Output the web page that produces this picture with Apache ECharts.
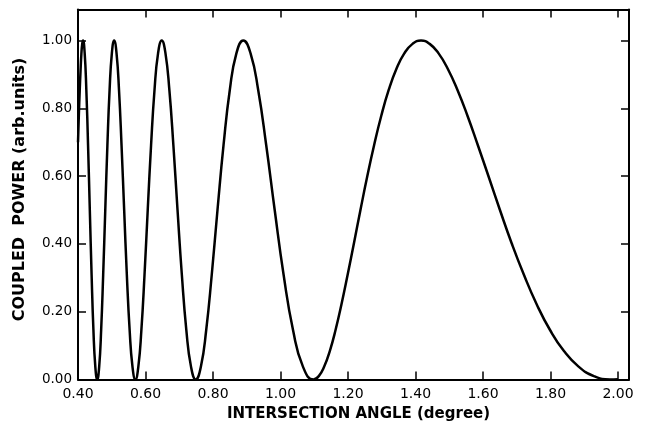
<!DOCTYPE html>
<html><head><meta charset="utf-8">
<script src="https://cdn.jsdelivr.net/npm/echarts/dist/echarts.min.js"></script>
<style>html,body{margin:0;padding:0;background:#fff}#c{width:647px;height:428px}</style>
</head><body><div id="c"></div>
<script>
const angles = [
0.4000,0.4025,0.4050,0.4075,0.4100,0.4125,0.4149,0.4198,0.4247,0.4298,0.4350,0.4403,0.4457,0.4513,0.4570,
0.4628,0.4686,0.4746,0.4808,0.4871,0.4936,0.5003,0.5071,0.5142,0.5215,0.5290,0.5368,0.5447,0.5530,0.5614,0.5701,
0.5788,0.5878,0.5971,0.6066,0.6165,0.6267,0.6372,0.6481,0.6592,0.6707,0.6826,0.6949,0.7077,0.7210,0.7348,0.7491,
0.7642,0.7799,0.7963,0.8133,0.8312,0.8498,0.8693,0.8897,0.9113,0.9339,0.9577,0.9828,1.0092,1.0371,1.0665,1.0977,
1.1134,1.1295,1.1461,1.1631,1.1807,1.1989,1.2176,1.2369,1.2568,1.2773,1.2986,1.3206,1.3433,1.3668,1.3912,1.4164,
1.4420,1.4684,1.4959,1.5244,1.5540,1.5848,1.6168,1.6502,1.6849,1.7212,1.7590,1.7986,1.8399,1.8832,1.9286,1.9763,2.0000
];
const power = [
0.70,0.78,0.85,0.91,0.96,0.99,1.00,0.962,0.854,0.691,0.50,0.309,0.146,0.038,0.0,
0.038,0.146,0.309,0.50,0.691,0.854,0.962,1.00,0.962,0.854,0.691,0.50,0.309,0.146,0.038,0.0,
0.038,0.146,0.309,0.50,0.691,0.854,0.962,1.00,0.962,0.854,0.691,0.50,0.309,0.146,0.038,0.0,
0.038,0.146,0.309,0.50,0.691,0.854,0.962,1.00,0.962,0.854,0.691,0.50,0.309,0.146,0.038,0.0,
0.010,0.038,0.084,0.146,0.222,0.309,0.402,0.50,0.598,0.691,0.778,0.854,0.916,0.962,0.990,1.00,
0.990,0.962,0.916,0.854,0.778,0.691,0.598,0.50,0.402,0.309,0.222,0.146,0.084,0.038,0.010,0.0,0.001
];
const xTickLabels = ['0.40','0.60','0.80','1.00','1.20','1.40','1.60','1.80','2.00'];
const yTickLabels = ['0.00','0.20','0.40','0.60','0.80','1.00'];
const xName = 'INTERSECTION ANGLE (degree)';
const yName = 'COUPLED  POWER (arb.units)';

const chart = echarts.init(document.getElementById('c'), null, {renderer:'canvas'});
const fmt = (list) => (v) => { const s = v.toFixed(2); return list.indexOf(s) >= 0 && Math.abs(v*5 - Math.round(v*5)) < 1e-6 ? s : ''; };
const lineStyle = {color:'#000', width:2};
const tick = {show:true, inside:true, length:8, lineStyle:{color:'#000', width:1.5}};
const nameFont = {color:'#000', fontFamily:'DejaVu Sans', fontWeight:'bold', fontSize:15};
const X = {min:0.4, max:2.0326, interval:0.2};
const Y = {min:0, max:1.0914, interval:0.2};
chart.setOption({
  animation:false,
  backgroundColor:'#fff',
  grid:{left:78, right:18, top:9.5, bottom:48.5},
  xAxis:[
    Object.assign({type:'value', position:'bottom', axisLine:{show:true, onZero:false, lineStyle},
      axisTick:tick, splitLine:{show:false},
      axisLabel:{margin:8, formatter:fmt(xTickLabels), color:'#000', fontFamily:'DejaVu Sans', fontSize:14},
      name:xName, nameLocation:'middle', nameGap:24,
      nameTextStyle:Object.assign({padding:[0,0,0,10]}, nameFont)}, X),
    Object.assign({type:'value', position:'top', axisLine:{show:true, onZero:false, lineStyle},
      axisTick:tick, splitLine:{show:false}, axisLabel:{show:false}}, X)
  ],
  yAxis:[
    Object.assign({type:'value', position:'left', axisLine:{show:true, onZero:false, lineStyle},
      axisTick:tick, splitLine:{show:false},
      axisLabel:{margin:6, formatter:fmt(yTickLabels), color:'#000', fontFamily:'DejaVu Sans', fontSize:13.5},
      name:yName, nameLocation:'middle', nameGap:50,
      nameTextStyle:Object.assign({padding:[0,0,0,10]}, nameFont, {fontSize:16})}, Y),
    Object.assign({type:'value', position:'right', axisLine:{show:true, onZero:false, lineStyle},
      axisTick:tick, splitLine:{show:false}, axisLabel:{show:false}}, Y)
  ],
  series:[{
    type:'line', xAxisIndex:0, yAxisIndex:0, showSymbol:false, smooth:0.5,
    lineStyle:{color:'#000', width:2.5},
    data: angles.map((a,i)=>[a, power[i]])
  }]
});
</script></body></html>
